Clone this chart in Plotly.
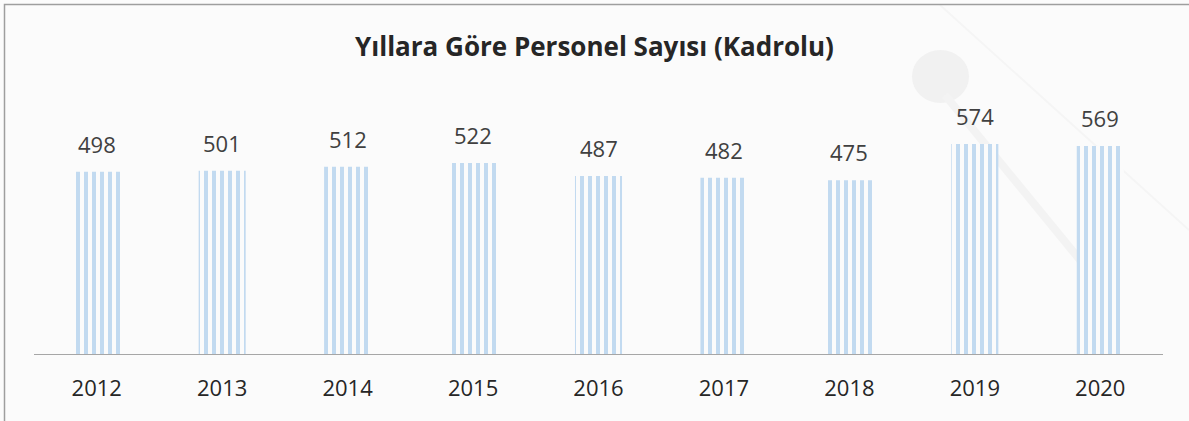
import plotly.graph_objects as go

# Personel sayısı (kadrolu) by year
years = ['2012', '2013', '2014', '2015', '2016', '2017', '2018', '2019', '2020']
staff = [498, 501, 512, 522, 487, 482, 475, 574, 569]

bar_blue = '#c2daf0'
bg = '#fbfbfb'
font_main = 'Open Sans, Noto Sans, sans-serif'

fig = go.Figure()

fig.add_trace(go.Bar(
    x=years, y=staff,
    marker=dict(color=bar_blue, line_width=0,
                pattern=dict(shape='|', size=8, solidity=0.5,
                             bgcolor=bg, fgcolor=bar_blue, fgopacity=1)),
    hoverinfo='x+y',
))

# value labels sit a bit higher above the bars than textposition='outside'
# (category axis: numeric x is the category index)
for i, val in enumerate(staff):
    fig.add_annotation(x=i, y=val, text=str(val), showarrow=False,
                       yanchor='bottom', yshift=11,
                       font=dict(family=font_main, size=22, color='#404040'))

fig.update_layout(
    width=1189, height=421,
    margin=dict(l=34, r=26, t=98, b=67),
    paper_bgcolor=bg, plot_bgcolor='rgba(0,0,0,0)',
    bargap=0.625,
    showlegend=False,
    title=dict(text='<b>Yıllara Göre Personel Sayısı (Kadrolu)</b>',
               x=0.5, xanchor='center', y=0.888, yanchor='middle',
               font=dict(family=font_main, size=26, color='#262626')),
    font=dict(family=font_main),
)

fig.update_xaxes(type='category', showline=True, linecolor='#a6a6a6',
                 linewidth=1.3, ticks='', showgrid=False, ticklabelstandoff=14,
                 range=[-0.5, len(years) - 0.5],
                 tickfont=dict(size=22, color='#262626'))
fig.update_yaxes(range=[0, 700], visible=False, showgrid=False)

# faint decorative background and the frame
deco = [
    dict(type='circle', xref='paper', yref='paper',
         x0=(912 - 34) / 1129, x1=(969 - 34) / 1129,
         y0=(354 - 103) / 256, y1=(354 - 50) / 256,
         fillcolor='#f1f1f1', line_width=0, layer='below'),
    dict(type='line', xref='paper', yref='paper',
         x0=(945 - 34) / 1129, y0=(354 - 95) / 256,
         x1=(1080 - 34) / 1129, y1=(354 - 260) / 256,
         line=dict(color='#f3f3f3', width=8), layer='below'),
    dict(type='line', xref='paper', yref='paper',
         x0=(940 - 34) / 1129, y0=(354 - 5) / 256,
         x1=(1189 - 34) / 1129, y1=(354 - 230) / 256,
         line=dict(color='#f5f5f5', width=2), layer='below'),
    dict(type='rect', xref='paper', yref='paper',
         x0=(4.5 - 34) / 1129, x1=(1200 - 34) / 1129,
         y0=(354 - 440) / 256, y1=(354 - 4.5) / 256,
         line=dict(color='#9e9e9e', width=1.5), fillcolor='rgba(0,0,0,0)',
         layer='below'),
]
fig.update_layout(shapes=deco)

fig.write_html('out.html', config={'displayModeBar': False},
               post_script="document.body.style.margin='0';")
